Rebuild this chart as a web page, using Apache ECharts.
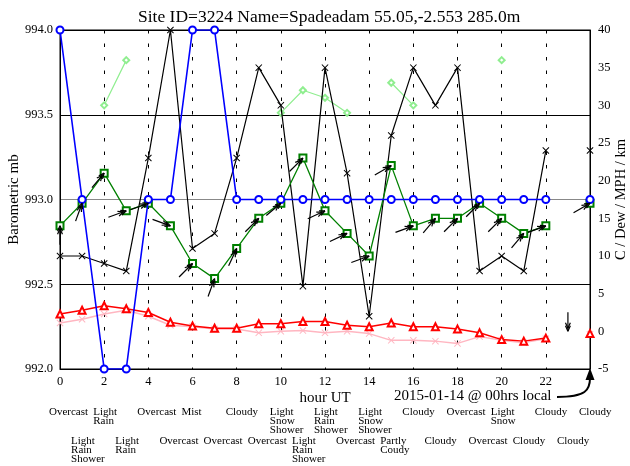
<!DOCTYPE html>
<html>
<head>
<meta charset="utf-8">
<script src="https://cdn.jsdelivr.net/npm/echarts@6/dist/echarts.min.js"></script>
<style>html,body{margin:0;padding:0;background:#fff}#c{width:630px;height:466px}</style>
</head>
<body>
<div id="c"></div>
<script>
const hours = [0,1,2,3,4,5,6,7,8,9,10,11,12,13,14,15,16,17,18,19,20,21,22,23,24];
const pressure = [994.0,993.0,992.0,992.0,993.0,993.0,994.0,994.0,993.0,993.0,993.0,993.0,993.0,993.0,993.0,993.0,993.0,993.0,993.0,993.0,993.0,993.0,993.0,null,993.0];
const visibility = [10,10,9,8,23,40,11,13,23,35,30,6,35,21,2,26,35,30,35,8,10,8,24,null,24];
const windSpeed = [14,17,21,16,17,14,9,7,11,15,17,23,16,13,10,22,14,15,15,17,15,13,14,null,17];
const windDir = [180,200,220,250,250,290,225,200,205,225,230,225,245,245,250,240,250,220,225,225,225,220,250,360,240];
const gust = [null,null,30,36,null,null,null,null,null,null,29,32,31,29,null,33,30,null,null,null,36,null,null,null,null];
const temp = [2.3,2.8,3.4,3.0,2.5,1.2,0.7,0.4,0.4,1.0,1.0,1.3,1.3,0.8,0.6,1.1,0.6,0.6,0.3,-0.2,-1.1,-1.3,-0.9,null,-0.3];
const dew = [1.1,1.6,2.3,2.8,2.0,0.8,0.6,0.3,0.3,-0.2,0.0,0.1,-0.2,0.0,-0.3,-1.2,-1.2,-1.3,-1.6,-0.7,-1.2,-1.5,-1.0,null,-0.4];
const weather = ["Overcast","Light\nRain\nShower","Light\nRain","Light\nRain","Overcast","Overcast","Mist","Overcast","Cloudy","Overcast","Light\nSnow\nShower","Light\nRain\nShower","Light\nRain\nShower","Overcast","Light\nSnow\nShower","Partly\nCoudy","Cloudy","Cloudy","Overcast","Overcast","Light\nSnow","Cloudy","Cloudy","Cloudy","Cloudy"];
const titleText = "Site ID=3224 Name=Spadeadam 55.05,-2.553 285.0m";
const dateText = "2015-01-14 @ 00hrs local";

const FONT = '"Liberation Serif","Times New Roman",serif';
const pair = arr => hours.map((h,i) => [h, arr[i]]);
const xShape = 'path://M0,1L1,0L5,4L9,0L10,1L6,5L10,9L9,10L5,6L1,10L0,9L4,5Z';

const chart = echarts.init(document.getElementById('c'), null, {renderer:'canvas'});
const option = {
  animation: false,
  backgroundColor: '#fff',
  title: {text: titleText, left: 133, top: 3,
    textStyle: {fontFamily: FONT, fontSize: 17.5, fontWeight: 'normal', color: '#000'}},
  grid: {left: 60, right: 40, top: 30, bottom: 97, containLabel: false, outerBoundsMode: 'none',
    show: true, borderColor: '#000', borderWidth: 1, backgroundColor: 'transparent'},
  xAxis: {type: 'value', min: 0, max: 24, interval: 2,
    name: 'hour UT', nameLocation: 'middle', nameGap: 22, nameMoveOverlap: false,
    nameTextStyle: {fontFamily: FONT, fontSize: 15, color: '#000'},
    axisLine: {onZero: false, lineStyle: {color: '#000'}}, axisTick: {show: false},
    axisLabel: {fontFamily: FONT, fontSize: 12.5, color: '#000', margin: 6,
      formatter: v => v === 24 ? '' : String(v)},
    splitLine: {show: true, lineStyle: {color: '#000', type: [3.5, 10], width: 1}}},
  yAxis: [
    {type: 'value', min: 992, max: 994, interval: 0.5, position: 'left',
     name: 'Barometric mb', nameLocation: 'middle', nameGap: 38, nameMoveOverlap: false,
     nameTextStyle: {fontFamily: FONT, fontSize: 15, color: '#000'},
     axisLine: {show: true, onZero: false, lineStyle: {color: '#000'}}, axisTick: {show: false},
     axisLabel: {fontFamily: FONT, fontSize: 12.5, color: '#000', margin: 7, formatter: v => v.toFixed(1)},
     splitLine: {show: true, lineStyle: {color: ['#000','#000','#888','#000','#000'], width: 1}}},
    {type: 'value', min: -5, max: 40, interval: 5, position: 'right',
     name: 'C / Dew / MPH / km', nameLocation: 'middle', nameGap: 24, nameMoveOverlap: false,
     nameTextStyle: {fontFamily: FONT, fontSize: 14.5, color: '#000'},
     axisLine: {show: true, onZero: false, lineStyle: {color: '#000'}}, axisTick: {show: false},
     axisLabel: {fontFamily: FONT, fontSize: 12.5, color: '#000', margin: 8},
     splitLine: {show: false}}
  ],
  series: [
    {name: 'dew', type: 'line', yAxisIndex: 1, data: pair(dew), connectNulls: false,
     symbol: xShape, symbolSize: 7, lineStyle: {color: '#ffb6c1', width: 1.5},
     itemStyle: {color: '#ffb6c1'}, z: 3},
    {name: 'temp', type: 'line', yAxisIndex: 1, data: pair(temp), connectNulls: false,
     symbol: 'emptyTriangle', symbolSize: 7, lineStyle: {color: '#ff0000', width: 1.5},
     itemStyle: {color: '#ff0000', borderWidth: 1.5}, z: 4},
    {name: 'gust', type: 'line', yAxisIndex: 1, data: pair(gust), connectNulls: false,
     symbol: 'emptyDiamond', symbolSize: 6, lineStyle: {color: '#90ee90', width: 1.2},
     itemStyle: {color: '#90ee90', borderWidth: 1.2}, z: 3},
    {name: 'vis', type: 'line', yAxisIndex: 1, data: pair(visibility), connectNulls: false,
     symbol: xShape, symbolSize: 7, lineStyle: {color: '#000', width: 1.2},
     itemStyle: {color: '#000'}, z: 4},
    {name: 'wind', type: 'line', yAxisIndex: 1, data: pair(windSpeed), connectNulls: false,
     symbol: 'emptyRect', symbolSize: 7, lineStyle: {color: '#008000', width: 1.3},
     itemStyle: {color: '#008000', borderWidth: 1.3}, z: 5},
    {name: 'pressure', type: 'line', yAxisIndex: 0, data: pair(pressure), connectNulls: false,
     symbol: 'emptyCircle', symbolSize: 7, lineStyle: {color: '#0000ff', width: 1.6},
     itemStyle: {color: '#0000ff', borderWidth: 1.5}, z: 6},
    {name: 'arrows', type: 'custom', yAxisIndex: 1, clip: false, z: 7,
     data: hours.map((h,i) => [h, windSpeed[i] == null ? 0 : windSpeed[i], windDir[i]]),
     renderItem: (params, api) => {
       const tip = api.coord([api.value(0), api.value(1)]);
       const th = (270 - api.value(2)) * Math.PI / 180;
       const ux = Math.cos(th), uy = -Math.sin(th);
       const L = 19, H = 6, a = 0.42;
       const st = {stroke: '#000', lineWidth: 1.2};
       const kids = [{type: 'line', shape: {x1: tip[0]-ux*L, y1: tip[1]-uy*L, x2: tip[0], y2: tip[1]}, style: st}];
       [0, 3].forEach(off => {
         const px = tip[0]-ux*off, py = tip[1]-uy*off;
         [a, -a].forEach(s => {
           const bx = -ux*Math.cos(s) + uy*Math.sin(s);
           const by = -ux*Math.sin(s) - uy*Math.cos(s);
           kids.push({type: 'line', shape: {x1: px, y1: py, x2: px + bx*H, y2: py + by*H}, style: st});
         });
       });
       return {type: 'group', children: kids};
     }},
    {name: 'weather', type: 'custom', yAxisIndex: 0, clip: false, z: 7,
     data: hours.map(h => [h, 992]),
     renderItem: (params, api) => {
       const p = api.coord([api.value(0), 992]);
       const i = params.dataIndex;
       return {type: 'text', style: {text: weather[i], x: p[0] - 11, y: (hours[i] % 2 === 0) ? 407.5 : 436.5,
         fill: '#000', fontSize: 11, fontFamily: FONT, align: 'left', verticalAlign: 'top', lineHeight: 9}};
     }}
  ],
  graphic: [
    {type: 'text', left: 394, top: 389, style: {text: dateText, fontSize: 15, fontFamily: FONT, fill: '#000'}},
    {type: 'bezierCurve', shape: {x1: 557, y1: 397, x2: 590, y2: 378, cpx1: 586, cpy1: 397, cpx2: 590, cpy2: 390},
     style: {stroke: '#000', lineWidth: 2, fill: null}},
    {type: 'polygon', shape: {points: [[585.5, 380], [594.5, 380], [590, 368]]}, style: {fill: '#000'}}
  ]
};
chart.setOption(option);
</script>
</body>
</html>
